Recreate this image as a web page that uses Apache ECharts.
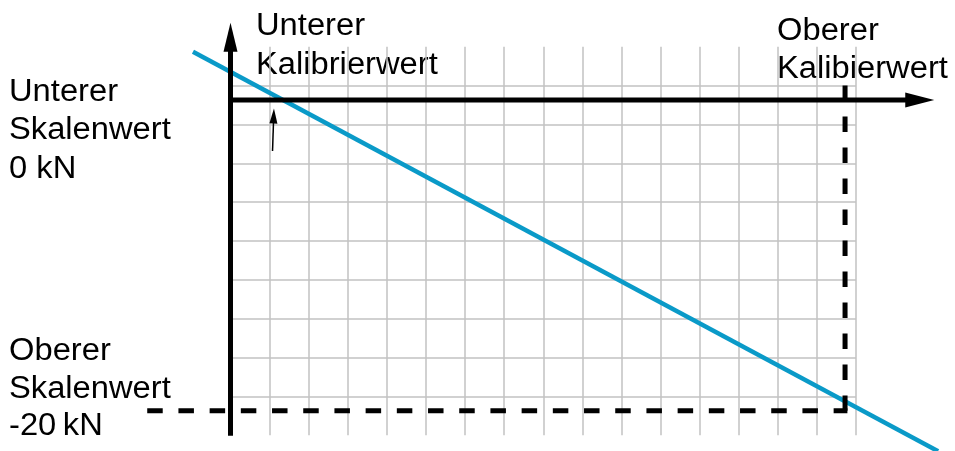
<!DOCTYPE html>
<html>
<head>
<meta charset="utf-8">
<script src="https://cdn.jsdelivr.net/npm/echarts@6/dist/echarts.min.js"></script>
<style>
html,body{margin:0;padding:0;background:#fff;}
#chart{width:955px;height:451px;}
</style>
</head>
<body>
<div id="chart"></div>
<script>
// ---- data (x in grid cells, y in kN) ----
const xRange = [0, 16];
const xInterval = 1;
const yRangeKN = [-21.57, 3.43];
const yIntervalKN = 2.5;

// sensor characteristic (blue line)
const sensorLine = [[-0.96, 3.1], [18.1, -22.6]];

// calibration values (x) and scale values (kN)
const lowerCalibration = 1.1;
const upperCalibration = 15.72;
const lowerScaleKN = 0;
const upperScaleKN = -20;

// axis extents (including arrow heads)
const yAxisLine = [[0, -21.6], [0, 4.04]];
const xAxisLine = [[0, lowerScaleKN], [17.63, lowerScaleKN]];

// dashed reference lines
const upperScaleLine = [[-2.13, upperScaleKN], [15.78, upperScaleKN]];
const upperCalLine = [[upperCalibration, 0.93], [upperCalibration, upperScaleKN]];

// small pointer to the lower calibration value
const lowerCalPointer = [[1.075, -3.28], [1.105, -1.03]];

// labels
const labelLowerCal = ['Unterer', 'Kalibrierwert'];
const labelUpperCal = ['Oberer', 'Kalibierwert'];
const labelLowerScale = ['Unterer', 'Skalenwert', '0 kN'];
const labelUpperScale = ['Oberer', 'Skalenwert', '-20\u2009kN'];

// ---- layout ----
const FONT = '"Liberation Sans", Arial, sans-serif';
const W = 955, H = 451;
const G = {left: 230.5, top: 46.7, width: 625.5, height: 388.5};     // grid with the cells
const O = {left: 0, top: 0, width: W, height: H};                    // overlay grid, same scale
const pxX = G.width / (xRange[1] - xRange[0]);
const pxY = G.height / (yRangeKN[1] - yRangeKN[0]);
const oX = [xRange[0] - (G.left - O.left) / pxX,
            xRange[1] + ((O.left + O.width) - (G.left + G.width)) / pxX];
const oY = [yRangeKN[0] - ((O.top + O.height) - (G.top + G.height)) / pxY,
            yRangeKN[1] + (G.top - O.top) / pxY];

const chart = echarts.init(document.getElementById('chart'), null, {renderer: 'canvas'});

function arrowLine(pts, headSize, rotate) {
  return [
    {value: pts[0], symbol: 'none'},
    {value: pts[1], symbol: 'triangle', symbolSize: headSize, symbolRotate: rotate}
  ];
}

function textEl(lines, x, y, lh) {
  return {
    type: 'text', x: x, y: y, scaleX: 1.055, scaleY: 1, silent: true,
    style: {
      x: 0, y: 0,
      text: lines.join('\n'), font: '31px ' + FONT, fill: '#000',
      lineHeight: lh, align: 'left', verticalAlign: 'top'
    }
  };
}

const hidden = {
  axisLine: {show: false}, axisTick: {show: false}, axisLabel: {show: false}, splitLine: {show: false}
};

function lineSeries(name, data, style, extra) {
  return Object.assign({
    name: name, type: 'line', data: data, xAxisIndex: 1, yAxisIndex: 1,
    symbol: 'none', clip: false, silent: true, animation: false,
    lineStyle: style, emphasis: {disabled: true}
  }, extra || {});
}

const arrowExtra = {
  showSymbol: true, showAllSymbol: true, z: 4,
  itemStyle: {color: '#000', borderWidth: 0}
};

const option = {
  animation: false,
  backgroundColor: '#fff',
  grid: [
    Object.assign({containLabel: false, outerBoundsMode: 'none'}, G),
    Object.assign({containLabel: false, outerBoundsMode: 'none'}, O)
  ],
  xAxis: [
    {
      gridIndex: 0, type: 'value', min: xRange[0], max: xRange[1], interval: xInterval,
      axisLine: {show: false}, axisTick: {show: false}, axisLabel: {show: false},
      splitLine: {show: true, showMinLine: false, showMaxLine: true,
        lineStyle: {color: '#c2c2c2', width: 1.5}}
    },
    Object.assign({gridIndex: 1, type: 'value', min: oX[0], max: oX[1]}, hidden)
  ],
  yAxis: [
    {
      gridIndex: 0, type: 'value', min: yRangeKN[0], max: yRangeKN[1], interval: yIntervalKN,
      axisLine: {show: false}, axisTick: {show: false}, axisLabel: {show: false},
      splitLine: {show: true, showMinLine: false, showMaxLine: false,
        lineStyle: {color: '#c2c2c2', width: 1.5}}
    },
    Object.assign({gridIndex: 1, type: 'value', min: oY[0], max: oY[1]}, hidden)
  ],
  series: [
    lineSeries('Kennlinie', sensorLine, {color: '#0a9ac8', width: 4.5}, {z: 2}),
    lineSeries('Oberer Skalenwert', upperScaleLine, {color: '#000', width: 5, type: [15.5, 15.7]}, {z: 3}),
    lineSeries('Oberer Kalibrierwert', upperCalLine, {color: '#000', width: 5, type: [15.5, 15.5]}, {z: 3}),
    lineSeries('y-Achse', arrowLine(yAxisLine, [14, 29], 0), {color: '#000', width: 5}, arrowExtra),
    lineSeries('x-Achse', arrowLine(xAxisLine, [15, 29], -90), {color: '#000', width: 5}, arrowExtra),
    lineSeries('Zeiger', arrowLine(lowerCalPointer, [8, 15], -2), {color: '#000', width: 1.5}, arrowExtra)
  ],
  graphic: [
    textEl(labelLowerCal, 256, 7, 38.7),
    textEl(labelUpperCal, 777, 13, 37.5),
    textEl(labelLowerScale, 9, 73, 38.5),
    textEl(labelUpperScale, 9, 333, 37.5)
  ]
};
chart.setOption(option);
</script>
</body>
</html>
